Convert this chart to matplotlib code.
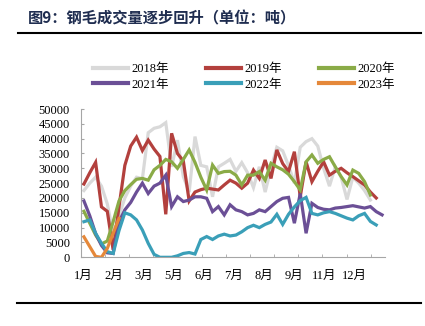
import numpy as np
import matplotlib.pyplot as plt
from matplotlib.lines import Line2D

# weekly volumes (tons), one list per year
y2018 = [22500, 25000, 27000, 24000, 18000, 8000, 14000, 20000, 24000, 27000,
         26500, 42000, 43500, 44000, 45400, 30500, 39500, 27200, 22000, 40700,
         31000, 30500, 20400, 30500, 31700, 33000, 29000, 31900, 28500, 23500,
         30500, 22000, 30000, 37100, 35900, 30900, 25000, 37100, 39000, 40000,
         37500, 30000, 24000, 30500, 27000, 19500, 27000, 25000, 22500, 19300]
y2019 = [24700, 28500, 32000, 17000, 15500, 2500, 17000, 31000, 37500, 40500,
         36000, 39500, 36500, 34000, 14500, 41800, 35000, 32500, 19000, 22000,
         22800, 23300, 23000, 22700, 24400, 26000, 25000, 23300, 25000, 29400,
         26600, 32800, 26600, 36200, 31600, 28900, 35600, 20400, 32200, 25500,
         29000, 32200, 27700, 29000, 30000, 28500, 27200, 25800, 24400, 22000,
         20000]
y2020 = [15500, 11500, 7500, 4500, 5500, 12000, 19000, 22500, 24500, 26300,
         26600, 26000, 29500, 31000, 33000, 32200, 30000, 33000, 36200, 32000,
         27000, 22700, 31100, 28300, 28900, 29000, 27700, 24400, 27700, 27700,
         28900, 26000, 31700, 30500, 29500, 28000, 25500, 22700, 32200, 34500,
         31700, 33000, 33900, 30500, 27200, 24400, 29400, 28300, 25500, 21000]
y2021 = [19000, 14000, 8000, 4000, 1500, 1300, 12000, 16000, 18500, 22000,
         25000, 21500, 24000, 25000, 27700, 17100, 20400, 18800, 19300, 20400,
         20400, 19900, 15400, 17100, 14300, 17700, 16000, 15400, 14300, 14800,
         16000, 15400, 17100, 18800, 19900, 20200, 11500, 21500, 8100, 18200,
         16800, 16200, 16000, 16600, 16800, 17100, 17400, 17000, 16600, 17100,
         15400, 14300]
y2022 = [12000, 12600, 8100, 4700, 1900, 1300, 9000, 15000, 14300, 12600,
         9200, 4700, 1000, 0, 0, 0, 500, 1300, 1600, 1100,
         6000, 7000, 6000, 7200, 7800, 7200, 7500, 8600, 10000, 10800,
         10000, 11100, 11900, 14500, 11100, 14500, 17000, 19100, 20200, 14800,
         14300, 15000, 15400, 14800, 14000, 13200, 12600, 14000, 14800, 12100,
         10900]
y2023 = [6900, 3600, 300, 0, 3000, 8100, 13100]

series = [("2018年", y2018, "#d9d9d9"),
          ("2019年", y2019, "#b3403d"),
          ("2020年", y2020, "#8aab47"),
          ("2021年", y2021, "#6b4f96"),
          ("2022年", y2022, "#3a9fb8"),
          ("2023年", y2023, "#e5883a")]

month_labels = ["1月", "2月", "3月", "5月", "6月", "7月", "8月", "9月", "11月", "12月"]

serif = ["Liberation Serif", "Noto Sans CJK SC"]

fig = plt.figure(figsize=(4.25, 3.26), dpi=100)
ax = fig.add_axes([81 / 425, 68.7 / 326, 304 / 425, 148.3 / 326])

handles = []
for name, vals, col in series:
    ln, = ax.plot(np.arange(len(vals)), vals, color=col, lw=2.3, label=name,
                  solid_joinstyle="miter")
    handles.append(ln)

ax.set_xlim(-0.5, 51.5)
ax.set_ylim(0, 50000)
ax.set_yticks(np.arange(0, 50001, 5000))
ax.set_xticks([-0.1 + 5.15 * k for k in range(len(month_labels))])
ax.set_xticklabels(month_labels)
ax.set_xticks([-0.5 + 4.13 * k for k in range(13)], minor=True)

for s in ["top", "right"]:
    ax.spines[s].set_visible(False)
for s in ["left", "bottom"]:
    ax.spines[s].set_color("#a6a6a6")
    ax.spines[s].set_linewidth(0.8)

ax.tick_params(axis="y", direction="in", length=2.5, color="#a6a6a6", pad=8)
ax.tick_params(axis="x", which="major", length=0, pad=9)
ax.tick_params(axis="x", which="minor", direction="in", length=2.5, color="#a6a6a6")
for lab in ax.get_xticklabels() + ax.get_yticklabels():
    lab.set_family(serif)
    lab.set_fontsize(9)
    lab.set_color("black")

# legend fills column-wise, so reorder to get rows 2018-2020 / 2021-2023
order = [0, 3, 1, 4, 2, 5]
leg = ax.legend([handles[i] for i in order], [series[i][0] for i in order],
                loc="upper left", bbox_to_anchor=(93 / 425, 1 - 63 / 326),
                bbox_transform=fig.transFigure, ncol=3, frameon=False,
                handlelength=2.8, handletextpad=0.25, columnspacing=3.0,
                labelspacing=0.3, borderpad=0, borderaxespad=0,
                prop={"family": serif, "size": 9})
for h in leg.get_lines():
    h.set_linewidth(3)

fig.text(28 / 425, 1 - 18 / 326, "图9：钢毛成交量逐步回升（单位：吨）",
         family=["Noto Sans CJK SC", "DejaVu Sans"], fontsize=11,
         fontweight="bold", color="#1f2d50", va="center", ha="left")

fig.add_artist(Line2D([18 / 425, 421 / 425], [1 - 33 / 326] * 2, color="black", lw=1.5))
fig.add_artist(Line2D([17 / 425, 421 / 425], [1 - 303 / 326] * 2, color="black", lw=1.5))

fig.savefig("out.png", dpi=100)
